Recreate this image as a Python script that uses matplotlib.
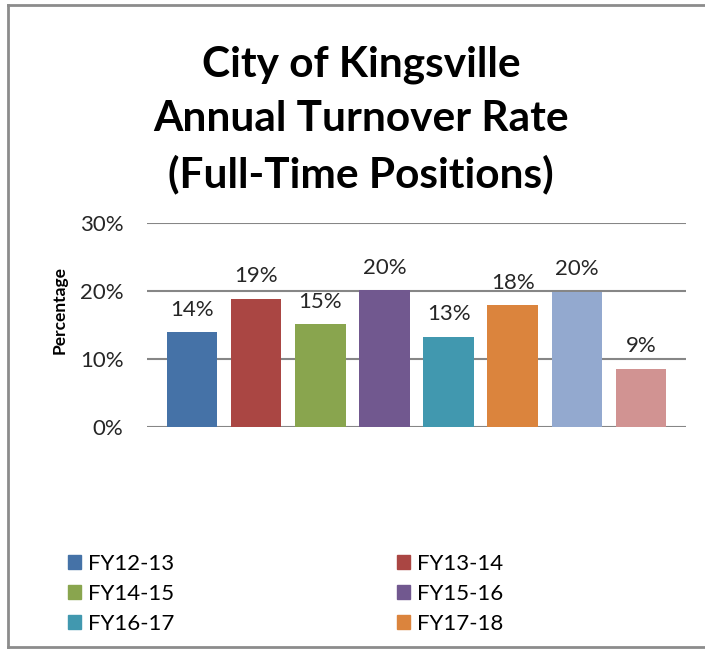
import matplotlib.pyplot as plt
from matplotlib.lines import Line2D
from matplotlib.patches import Patch

# Turnover data
years = ["FY12-13", "FY13-14", "FY14-15", "FY15-16", "FY16-17", "FY17-18", "FY18-19", "FY19-20"]
rates = [13.9, 18.8, 15.1, 20.1, 13.3, 17.9, 19.9, 8.6]
colors = ["#4572A7", "#AA4643", "#89A54E", "#71588F", "#4198AF", "#DB843D", "#93A9CF", "#D19392"]
yticks = [0, 10, 20, 30]

plt.rcParams["font.family"] = ["Lato", "DejaVu Sans"]

fig = plt.figure(figsize=(7.05, 6.49), dpi=100)
ax = fig.add_axes([147 / 705, 1 - 427 / 649, 539 / 705, 204 / 649])

x = range(len(years))
ax.bar(x, rates, width=0.79, color=colors, zorder=3)

for xi, v in zip(x, rates):
    ax.annotate(f"{round(v)}%", (xi, v), xytext=(0, 12), textcoords="offset points",
                ha="center", va="baseline", fontsize=16, color="#262626")

ax.set_xlim(-0.7, len(years) - 0.3)
ax.set_ylim(0, 30)
ax.set_yticks(yticks)
ax.set_yticklabels([f"{t}%" for t in yticks], fontsize=16, color="#262626")
ax.set_xticks([])
ax.tick_params(axis="y", length=0, pad=17)
ax.grid(axis="y", color="#868686", linewidth=1.5, zorder=0)
for s in ax.spines.values():
    s.set_visible(False)

fig.text(60 / 705, 1 - 310 / 649, "Percentage", rotation=90, ha="center", va="center",
         fontsize=12.5, fontweight="bold")

fig.text(361 / 705, 1 - 120 / 649, "City of Kingsville\nAnnual Turnover Rate\n(Full-Time Positions)",
         ha="center", va="center", fontsize=30.5, fontweight="bold", linespacing=1.5)

# Legend - only the first six entries fit in the chart area (two columns)
handles = [Patch(color=c) for c in colors[:6]]
for col, xpos in [(0, 68), (1, 397)]:
    idx = list(range(col, 6, 2))
    leg = fig.legend([handles[i] for i in idx], [years[i] for i in idx],
                     loc="upper left", bbox_to_anchor=(xpos / 705, 1 - 554 / 649),
                     frameon=False, borderpad=0, borderaxespad=0, fontsize=16,
                     handlelength=0.6, handleheight=0.6, handletextpad=0.3,
                     labelspacing=0.45)

# chart frame
fig.add_artist(Line2D([7.5 / 705, 1], [1 - 4.5 / 649] * 2, color="#8c8c8c", linewidth=2))
fig.add_artist(Line2D([7.5 / 705] * 2, [1 - 4.5 / 649, 1 - 647 / 649], color="#8c8c8c", linewidth=2))
fig.add_artist(Line2D([7.5 / 705, 1], [1 - 647 / 649] * 2, color="#8c8c8c", linewidth=2))

plt.savefig("out.png")
